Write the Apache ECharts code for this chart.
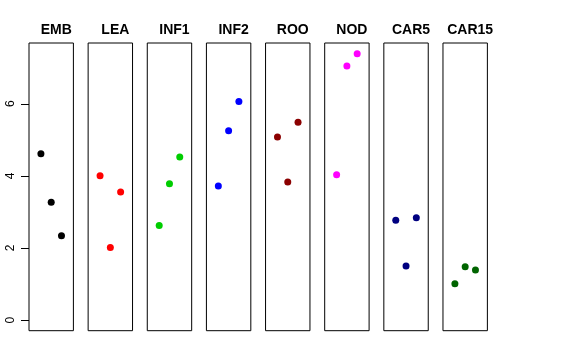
<!DOCTYPE html>
<html><head><meta charset="utf-8">
<script src="https://cdn.jsdelivr.net/npm/echarts@6/dist/echarts.min.js"></script>
<style>html,body{margin:0;padding:0;background:#fff}#c{width:576px;height:360px}</style>
</head><body><div id="c"></div>
<script>
var categories = ['EMB','LEA','INF1','INF2','ROO','NOD','CAR5','CAR15'];
var colors = ['#000000','#ff0000','#00cd00','#0000ff','#8b0000','#ff00ff','#000080','#006400'];
// values at x positions 1,2,3 (left, middle, right)
var EMB   = [4.61, 3.27, 2.34];
var LEA   = [4.00, 2.01, 3.55];
var INF1  = [2.62, 3.78, 4.52];
var INF2  = [3.72, 5.25, 6.06];
var ROO   = [5.08, 3.83, 5.49];
var NOD   = [4.03, 7.05, 7.39];
var CAR5  = [2.77, 1.50, 2.84];
var CAR15 = [1.01, 1.48, 1.39];
var seriesValues = [EMB, LEA, INF1, INF2, ROO, NOD, CAR5, CAR15];
var yTickMin = 0, yTickMax = 6, yTickStep = 2;

(function () {
var ymax = 7.39, ymin = 0;
var pad = (ymax - ymin) * 0.04;
var lo = ymin - pad, hi = ymax + pad;
var grids = [], xAxes = [], yAxes = [], series = [], titles = [];
var left0 = 29, step = 59.14, w = 44.4, gTop = 43, gH = 287.7;
var font = 'Liberation Sans, Arial, sans-serif';
categories.forEach(function (cat, i) {
  var l = left0 + i * step;
  grids.push({left: l, top: gTop, width: w, height: gH, show: true, borderColor: '#000', borderWidth: 1, backgroundColor: 'transparent'});
  xAxes.push({gridIndex: i, type: 'value', min: -0.16, max: 4.16, show: false});
  yAxes.push({gridIndex: i, type: 'value', min: lo, max: hi, show: false});
  titles.push({text: cat, left: l + w / 2, top: 18, textAlign: 'center',
    textStyle: {fontSize: 14, fontWeight: 'bold', color: '#000', fontFamily: font}});
  series.push({
    type: 'scatter', xAxisIndex: i, yAxisIndex: i, symbol: 'circle', symbolSize: 7,
    itemStyle: {color: colors[i], opacity: 1},
    data: seriesValues[i].map(function (v, j) { return [j + 1, v]; }),
    silent: true
  });
});
// tick axis grid sharing the same vertical scale
var ppu = gH / (hi - lo);
var axTop = gTop + (hi - yTickMax) * ppu;
var axH = (yTickMax - yTickMin) * ppu;
grids.push({left: left0, top: axTop, width: 1, height: axH, show: false});
xAxes.push({gridIndex: 8, type: 'value', min: 0, max: 1, show: false});
yAxes.push({gridIndex: 8, type: 'value', min: yTickMin, max: yTickMax, interval: yTickStep,
  axisLine: {show: false}, splitLine: {show: false},
  axisTick: {show: true, length: 8, lineStyle: {color: '#000'}},
  axisLabel: {rotate: 90, margin: 12, fontSize: 12, color: '#000', fontFamily: font}});
var chart = echarts.init(document.getElementById('c'), null, {renderer: 'canvas'});
chart.setOption({animation: false, title: titles, grid: grids, xAxis: xAxes, yAxis: yAxes, series: series});
})();
</script></body></html>
